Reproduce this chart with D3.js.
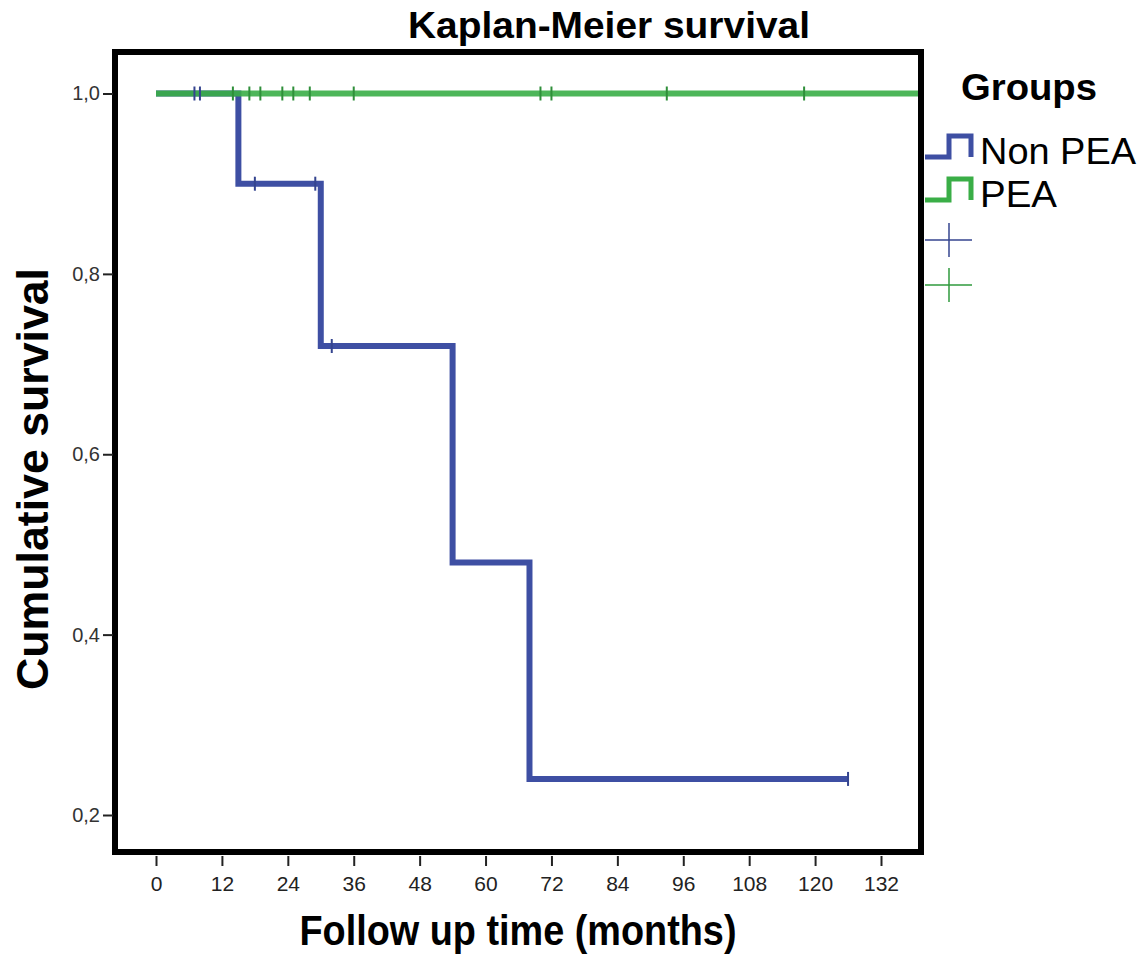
<!DOCTYPE html>
<html>
<head>
<meta charset="utf-8">
<script src="https://cdn.jsdelivr.net/npm/d3@7"></script>
<style>
  body { margin: 0; background: #fff; }
  text { font-family: "Liberation Sans", Arial, sans-serif; }
</style>
</head>
<body>
<div class="chart"></div>
<script>
// survival steps
var nonPeaTimes = [0, 15, 30, 54, 68, 126];
var nonPeaSurv = [1.0, 0.9, 0.72, 0.48, 0.24, 0.24];
var nonPeaCensored = [7, 8, 18, 29, 32, 126];

var peaTimes = [0, 140];
var peaSurv = [1.0, 1.0];
var peaCensored = [14, 17, 19, 23, 25, 28, 36, 70, 72, 93, 118];

var xTicks = [0, 12, 24, 36, 48, 60, 72, 84, 96, 108, 120, 132];
var yTicks = [0.2, 0.4, 0.6, 0.8, 1.0];

var groups = ["Non PEA", "PEA"];
var colors = {"Non PEA": "#3e4fa3", "PEA": "#3aae47"};

var width = 1142, height = 961;
var frame = {left: 115, top: 52, right: 921, bottom: 852};

var svg = d3.select(".chart").append("svg")
    .attr("width", width)
    .attr("height", height);

svg.append("rect").attr("width", width).attr("height", height).attr("fill", "#fff");

var x = d3.scaleLinear().domain([0, 132]).range([156, 881]);
var y = d3.scaleLinear().domain([0.2, 1.0]).range([815, 93.5]);

svg.append("clipPath").attr("id", "plotclip")
  .append("rect")
    .attr("x", frame.left).attr("y", frame.top)
    .attr("width", frame.right - frame.left)
    .attr("height", frame.bottom - frame.top);

var line = d3.line()
    .x(function(d) { return x(d[0]); })
    .y(function(d) { return y(d[1]); })
    .curve(d3.curveStepAfter);

function stepAt(times, surv, t) {
  var s = surv[0];
  for (var i = 0; i < times.length; i++) if (times[i] <= t) s = surv[i];
  return s;
}

var plot = svg.append("g").attr("clip-path", "url(#plotclip)");

// Non PEA curve
plot.append("path")
    .datum(d3.zip(nonPeaTimes, nonPeaSurv))
    .attr("d", line)
    .attr("fill", "none")
    .attr("stroke", colors["Non PEA"])
    .attr("stroke-width", 6);

// PEA curve
plot.append("path")
    .datum(d3.zip(peaTimes, peaSurv))
    .attr("d", line)
    .attr("fill", "none")
    .attr("stroke", colors["PEA"])
    .attr("stroke-opacity", 0.9)
    .attr("stroke-width", 6);

// censor marks
plot.selectAll(".cpea")
    .data(peaCensored)
  .enter().append("line")
    .attr("x1", function(d) { return x(d); })
    .attr("x2", function(d) { return x(d); })
    .attr("y1", function(d) { return y(stepAt(peaTimes, peaSurv, d)) - 7; })
    .attr("y2", function(d) { return y(stepAt(peaTimes, peaSurv, d)) + 7; })
    .attr("stroke", "#2f8f3a")
    .attr("stroke-width", 2);

plot.selectAll(".cnon")
    .data(nonPeaCensored)
  .enter().append("line")
    .attr("x1", function(d) { return x(d); })
    .attr("x2", function(d) { return x(d); })
    .attr("y1", function(d) { return y(stepAt(nonPeaTimes, nonPeaSurv, d)) - 7; })
    .attr("y2", function(d) { return y(stepAt(nonPeaTimes, nonPeaSurv, d)) + 7; })
    .attr("stroke", "#34448f")
    .attr("stroke-width", 2);

// frame
svg.append("rect")
    .attr("x", frame.left).attr("y", frame.top)
    .attr("width", frame.right - frame.left)
    .attr("height", frame.bottom - frame.top)
    .attr("fill", "none")
    .attr("stroke", "#000")
    .attr("stroke-width", 6);

// x axis
var xAxis = svg.append("g")
    .attr("transform", "translate(0," + (frame.bottom + 4) + ")")
    .call(d3.axisBottom(x).tickValues(xTicks).tickSize(10).tickPadding(10).tickSizeOuter(0));
xAxis.select(".domain").remove();
xAxis.selectAll("line").attr("stroke", "#222").attr("stroke-width", 2);
xAxis.selectAll("text").attr("font-size", 21).attr("fill", "#222")
    .style("font-family", "'Liberation Sans', Arial, sans-serif");

// y axis
var yAxis = svg.append("g")
    .attr("transform", "translate(" + (frame.left - 2) + ",0)")
    .call(d3.axisLeft(y).tickValues(yTicks).tickSize(10).tickPadding(3).tickSizeOuter(0)
      .tickFormat(function(d) { return d3.format(".1f")(d).replace(".", ","); }));
yAxis.select(".domain").remove();
yAxis.selectAll("line").attr("stroke", "#222").attr("stroke-width", 2);
yAxis.selectAll("text").attr("font-size", 20).attr("fill", "#333")
    .style("font-family", "'Liberation Sans', Arial, sans-serif");

// titles
svg.append("text")
    .attr("x", 609).attr("y", 38)
    .attr("text-anchor", "middle")
    .attr("font-size", 36).attr("font-weight", "bold")
    .attr("textLength", 402).attr("lengthAdjust", "spacingAndGlyphs")
    .text("Kaplan-Meier survival");

svg.append("text")
    .attr("x", 518).attr("y", 945)
    .attr("text-anchor", "middle")
    .attr("font-size", 42).attr("font-weight", "bold")
    .attr("textLength", 437).attr("lengthAdjust", "spacingAndGlyphs")
    .text("Follow up time (months)");

svg.append("text")
    .attr("transform", "translate(48,479) rotate(-90)")
    .attr("text-anchor", "middle")
    .attr("font-size", 44).attr("font-weight", "bold")
    .attr("textLength", 422).attr("lengthAdjust", "spacingAndGlyphs")
    .text("Cumulative survival");

// legend
var legend = svg.append("g");
legend.append("text")
    .attr("x", 961).attr("y", 100)
    .attr("font-size", 36).attr("font-weight", "bold")
    .attr("textLength", 136).attr("lengthAdjust", "spacingAndGlyphs")
    .text("Groups");

var legendRows = [{name: "Non PEA", y: 157, w: 156}, {name: "PEA", y: 200, w: 77}];
legendRows.forEach(function(r) {
  legend.append("path")
      .attr("d", "M925," + r.y + "H949V" + (r.y - 21) + "H971V" + r.y)
      .attr("fill", "none")
      .attr("stroke", colors[r.name])
      .attr("stroke-width", 5);
  legend.append("text")
      .attr("x", 980).attr("y", r.y + 7)
      .attr("font-size", 37)
      .attr("textLength", r.w).attr("lengthAdjust", "spacingAndGlyphs")
      .text(r.name);
});

var crossRows = [{name: "Non PEA", y: 240, c: "#34448f"}, {name: "PEA", y: 285, c: "#2f9a3c"}];
crossRows.forEach(function(r) {
  legend.append("line")
      .attr("x1", 925).attr("x2", 972).attr("y1", r.y).attr("y2", r.y)
      .attr("stroke", r.c).attr("stroke-width", 1.5);
  legend.append("line")
      .attr("x1", 949).attr("x2", 949).attr("y1", r.y - 17).attr("y2", r.y + 17)
      .attr("stroke", r.c).attr("stroke-width", 1.5);
});
</script>
</body>
</html>
